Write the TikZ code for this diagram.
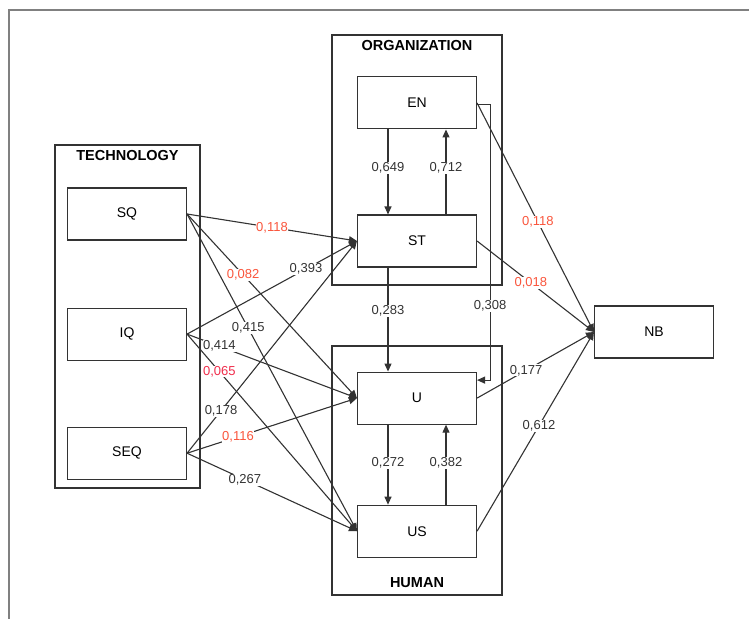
\documentclass[tikz,border=0pt]{standalone}
\usepackage{fontspec}
\setmainfont{Liberation Sans}
\usetikzlibrary{arrows.meta,positioning}
\definecolor{linegray}{rgb}{.2,.2,.2}
\definecolor{framegray}{rgb}{.5,.5,.5}
\definecolor{lowred}{RGB}{250,85,60}
\definecolor{pinkred}{RGB}{240,45,75}

\begin{document}
\begin{tikzpicture}[x=1pt,y=-1pt,% pixel units, y grows downward
				every node/.style={
					align=center,
					inner sep=1pt
				},
				box/.style={rectangle,draw=linegray,line width=1.1pt,fill=white,
					minimum width=119pt,minimum height=52pt,font=\fontsize{14}{16}\selectfont},
				group/.style={rectangle,draw=linegray,line width=1.1pt,inner sep=0pt},
				title/.style={font=\fontsize{14.5}{16}\selectfont\bfseries},
				lbl/.style={fill=white,inner sep=0.5pt,text=linegray,font=\fontsize{13}{15}\selectfont},
				red/.style={lbl,text=lowred},
				every edge/.style={draw=linegray,line width=1.1pt,-{Triangle[length=8pt,width=7pt]}}
			]
			\useasboundingbox (0,0) rectangle (749,619);
			% outer frame
			\draw[framegray,line width=2pt] (749,10) -- (9,10) -- (9,619);

			% groups
			\node[group,minimum width=145pt,minimum height=343pt](TECH) at (127.5,316.5){};
			\node[group,minimum width=170pt,minimum height=250pt](ORG) at (417,160){};
			\node[group,minimum width=170pt,minimum height=249pt](HUM) at (417,470.5){};
			\node[title](TECHt)[below=5pt of TECH.north]{TECHNOLOGY};
			\node[title](ORGt)[below=5pt of ORG.north]{ORGANIZATION};
			\node[title](HUMt)[above=7pt of HUM.south]{HUMAN};

			% constructs
			\node[box](SQ) at (127,214){SQ};
			\node[box](IQ)[below=67pt of SQ]{IQ};
			\node[box](SEQ)[below=66pt of IQ]{SEQ};
			\node[box](ST) at (417,241){ST};
			\node[box](EN)[above=85pt of ST]{EN};
			\node[box](U)[below=104pt of ST]{U};
			\node[box](US)[below=80pt of U]{US};
			\node[box](NB) at (654,332){NB};

			% technology paths
			\path
			(SQ.east)edge node[red,pos=0.5]{0,118} (ST.west)
			(SQ.east)edge node[red,pos=0.33]{0,082} (U.west)
			(SQ.east)edge node[lbl,pos=0.36]{0,415} (US.west)
			(IQ.east)edge node[lbl,pos=0.70]{0,393} (ST.west)
			(IQ.east)edge node[lbl,pos=0.19]{0,414} (U.west)
			(IQ.east)edge node[lbl,text=pinkred,pos=0.19]{0,065} (US.west)
			(SEQ.east)edge node[lbl,pos=0.2]{0,178} (ST.west)
			(SEQ.east)edge node[red,pos=0.3]{0,116} (U.west)
			(SEQ.east)edge node[lbl,pos=0.34]{0,267} (US.west)
			;
			% organization and human
			\path
			([xshift=-29pt]EN.south)edge node[lbl,pos=0.45]{0,649} ([xshift=-29pt]ST.north)
			([xshift=29pt]ST.north)edge node[lbl,pos=0.55]{0,712} ([xshift=29pt]EN.south)
			([xshift=-29pt]ST.south)edge node[lbl,pos=0.42]{0,283} ([xshift=-29pt]U.north)
			([xshift=-29pt]U.south)edge node[lbl,pos=0.48]{0,272} ([xshift=-29pt]US.north)
			([xshift=29pt]US.north)edge node[lbl,pos=0.52]{0,382} ([xshift=29pt]U.south)
			;
			\draw[draw=linegray,line width=1.1pt,-{Triangle[length=8pt,width=7pt]}]
			([yshift=-2pt]EN.east) -- ++(13,0) |- node[lbl,pos=0.365]{0,308} ([yshift=18pt]U.east);
			% net benefits
			\path
			(EN.east)edge node[red,pos=0.52]{0,118} (NB.west)
			(ST.east)edge node[red,pos=0.46]{0,018} (NB.west)
			(U.east)edge node[lbl,pos=0.42]{0,177} (NB.west)
			(US.east)edge node[lbl,pos=0.53]{0,612} (NB.west)
			;
		\end{tikzpicture}
\end{document}
